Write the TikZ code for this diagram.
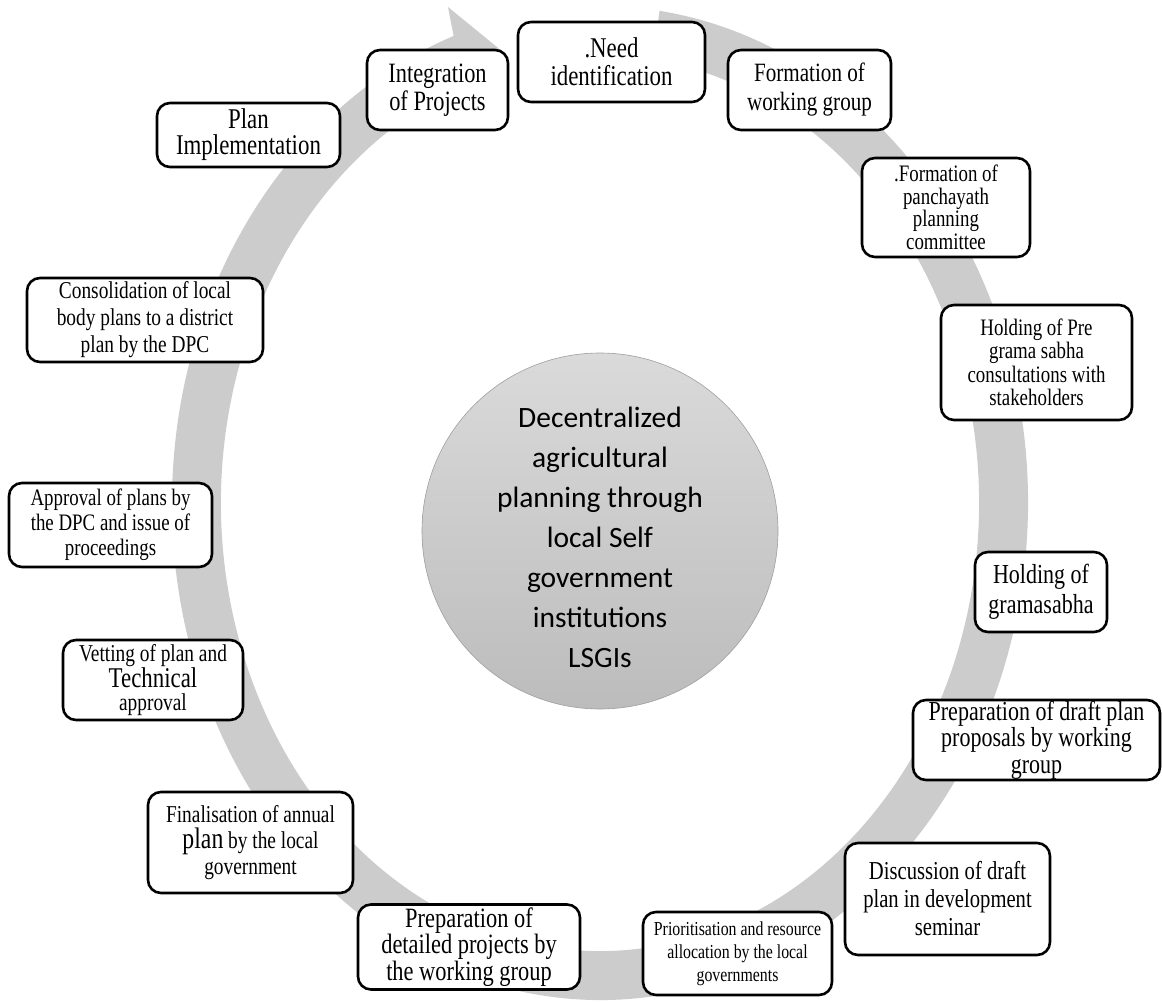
\documentclass[tikz,border=0pt]{standalone}
\usepackage{fontspec}
\setmainfont{Liberation Serif}[FakeStretch=0.8]
\newfontfamily\calfont{Carlito}
\usetikzlibrary{calc}
\definecolor{ringgray}{HTML}{CCCCCC}
\definecolor{hubtop}{HTML}{DADADA}
\definecolor{hubbot}{HTML}{BCBCBC}
\newcommand\fsz[2]{\fontsize{#1}{#2}\selectfont}
\begin{document}
\begin{tikzpicture}[x=1pt,y=1pt,
  box/.style={draw=black, line width=2.6pt, rounded corners=13pt, fill=white, align=center, inner sep=0pt}]
\useasboundingbox (0,0) rectangle (1162,-1003);
\fill[white] (0,0) rectangle (1162,-1003);
\coordinate (c) at (600,-503);
% circular arrow
\fill[ringgray] ($(c)+(82:428pt and 497pt)$)
  arc[start angle=82, end angle=-250, x radius=428pt, y radius=497pt]
  -- (448,-7) -- (503,-52) -- (479,-118)
  -- ($(c)+(110:379pt and 448pt)$)
  arc[start angle=-250, end angle=82, x radius=379pt, y radius=448pt]
  -- cycle;
% hub
\node[circle, minimum size=356pt, inner sep=0pt, top color=hubtop, bottom color=hubbot, draw=gray!75, line width=0.6pt] (hub) at (600,-531) {};
\node[align=center, font=\calfont\fsz{29.5}{40}] (hubtext) at (600,-537) {Decentralized\\agricultural\\planning through\\local Self\\government\\institutions\\LSGIs};
% boxes
\node[box, minimum width=187pt, minimum height=80pt, font=\fsz{28.6}{28}] (need) at (611.5,-62) {.Need\\identification};
\node[box, minimum width=163pt, minimum height=80pt, font=\fsz{26.4}{29}] (fwg) at (809.5,-90) {Formation of\\working group};
\node[box, minimum width=168pt, minimum height=99pt, font=\fsz{23.6}{22.5}] (fpc) at (946,-207.5) {.Formation of\\panchayath\\planning\\committee};
\node[box, minimum width=191pt, minimum height=115pt, font=\fsz{23.6}{23.5}] (hpg) at (1036.5,-362.5) {Holding of Pre\\grama sabha\\consultations with\\stakeholders};
\node[box, minimum width=132pt, minimum height=80pt, font=\fsz{27.5}{30}] (hg) at (1041,-592) {Holding of\\gramasabha};
\node[box, minimum width=247pt, minimum height=80pt, font=\fsz{27.5}{26.5}] (pdp) at (1036.5,-740) {Preparation of draft plan\\proposals by working\\group};
\node[box, minimum width=205pt, minimum height=112pt, font=\fsz{25.8}{28}] (dd) at (947.5,-899) {Discussion of draft\\plan in development\\seminar};
\node[box, minimum width=189pt, minimum height=83pt, font=\fsz{19.8}{23}] (pra) at (737.5,-953.5) {Prioritisation and resource\\allocation by the local\\governments};
\node[box, minimum width=222pt, minimum height=85pt, font=\fsz{28}{26.5}] (pdw) at (469,-947) {Preparation of\\detailed projects by\\the working group};
\node[box, minimum width=205pt, minimum height=101pt, font=\fsz{24.2}{26}] (fap) at (250.5,-842.5) {Finalisation of annual\\{\fsz{29.7}{26}plan} by the local\\government};
\node[box, minimum width=180pt, minimum height=80pt, font=\fsz{24.2}{23}] (vet) at (153,-680) {Vetting of plan and\\{\fsz{28.6}{23}Technical}\\approval};
\node[box, minimum width=203pt, minimum height=84pt, font=\fsz{23.6}{25}] (app) at (110.5,-525) {Approval of plans by\\the DPC and issue of\\proceedings};
\node[box, minimum width=236pt, minimum height=84pt, font=\fsz{24.2}{27}] (cons) at (145,-320) {Consolidation of local\\body plans to a district\\plan by the DPC};
\node[box, minimum width=183pt, minimum height=64pt, font=\fsz{28.6}{26}] (pi) at (248.5,-135) {Plan\\Implementation};
\node[box, minimum width=141pt, minimum height=80pt, font=\fsz{28}{28}] (ip) at (437.5,-90) {Integration\\of Projects};
\end{tikzpicture}
\end{document}
